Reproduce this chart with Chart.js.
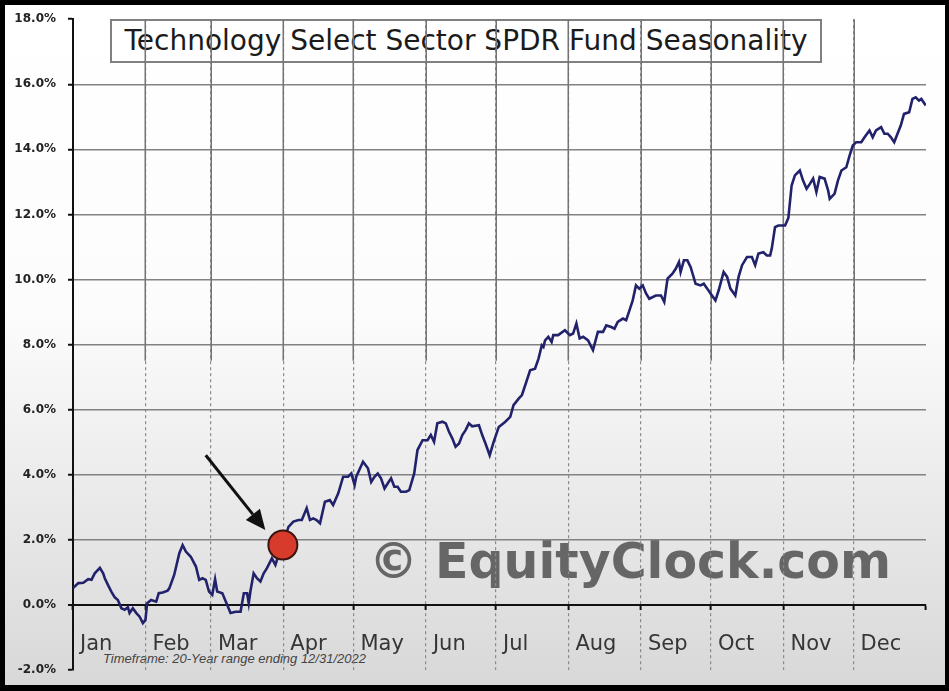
<!DOCTYPE html>
<html>
<head>
<meta charset="utf-8">
<script src="https://cdn.jsdelivr.net/npm/chart.js@4.4.0/dist/chart.umd.min.js"></script>
<style>
  html, body { margin: 0; padding: 0; background: #000; width: 949px; height: 691px; overflow: hidden; }
  #panel { position: absolute; left: 5px; top: 5px; width: 940px; height: 680px;
           background: linear-gradient(#ffffff 0%, #fcfcfc 45%, #d8d8d8 100%); }
  #title { position: absolute; left: 110px; top: 19px; width: 712px; height: 44px; box-sizing: border-box;
           border: 2px solid #808080; font: 28px "DejaVu Sans"; line-height: 40px; text-align: center; color: #1b1b1b; }
  #mark { position: absolute; left: 369px; top: 537px; font: bold 49px "DejaVu Sans"; line-height: 49px;
          color: rgba(88, 88, 88, 0.9); white-space: nowrap; }
  #frame { position: absolute; left: 103px; top: 652px; font: italic 13px "Liberation Sans"; line-height: 14px;
           color: #444; white-space: nowrap; }
  canvas { position: absolute; left: 0; top: 0; }
</style>
</head>
<body>
<div id="panel"></div>
<div id="title">Technology Select Sector SPDR Fund Seasonality</div>
<div id="mark">© EquityClock.com</div>
<div id="frame">Timeframe: 20-Year range ending 12/31/2022</div>
<canvas id="myChart" width="949" height="691"></canvas>
<script>
// day of year (0-365) and average seasonal return, %
const days = [0, 2.3, 4.4, 6.5, 7.9, 9.3, 11.5, 12.9, 13.6, 15.0,
  16.4, 17.8, 19.2, 20.7, 22.1, 23.5, 24.2, 25.6, 27.1, 28.5,
  29.9, 31.0, 31.7, 33.4, 35.6, 36.7, 38.4, 40.5, 41.2, 43.3,
  45.5, 46.9, 48.3, 50.4, 52.6, 54.0, 55.4, 56.8, 58.2, 59.6,
  60.8, 61.7, 63.9, 66.0, 67.4, 69.6, 71.7, 73.1, 74.5, 75.2,
  75.9, 77.3, 78.7, 80.2, 81.6, 83.0, 85.1, 86.6, 88.4, 89.7,
  92.2, 94.3, 96.5, 97.9, 100.0, 101.4, 102.8, 104.2, 105.7, 107.8,
  109.9, 111.3, 113.5, 115.6, 117.7, 119.1, 120.5, 121.2, 124.1, 126.2,
  127.6, 129.0, 130.4, 131.8, 133.3, 134.7, 136.1, 137.5, 138.9, 140.3,
  142.5, 143.9, 146.0, 147.4, 149.6, 151.7, 153.1, 154.5, 155.9, 158.1,
  159.5, 160.9, 162.3, 163.7, 165.2, 166.6, 168.0, 169.4, 170.8, 173.7,
  175.1, 176.5, 178.3, 180.0, 182.2, 185.0, 187.1, 188.5, 190.7, 192.1,
  193.5, 195.6, 197.7, 199.2, 200.6, 201.3, 202.0, 203.4, 204.8, 205.5,
  207.6, 210.5, 212.6, 214.0, 215.4, 216.8, 218.3, 220.4, 222.5, 224.6,
  226.8, 228.2, 230.3, 231.7, 233.1, 235.3, 236.7, 238.1, 239.5, 240.9,
  242.3, 243.8, 245.2, 246.6, 249.4, 251.6, 253.0, 254.4, 256.5, 257.9,
  259.3, 260.0, 261.4, 262.9, 264.3, 266.4, 268.5, 269.9, 271.4, 272.8,
  274.9, 276.3, 278.4, 279.9, 281.3, 283.4, 284.8, 286.3, 288.4, 290.5,
  291.9, 293.3, 295.4, 296.9, 298.3, 299.0, 300.4, 301.8, 304.7, 306.1,
  307.5, 308.9, 311.0, 312.4, 313.9, 315.3, 316.7, 318.1, 319.5, 321.6,
  323.1, 323.8, 325.9, 327.3, 328.8, 330.9, 332.3, 333.7, 335.1, 337.3,
  338.7, 340.8, 342.2, 343.6, 345.8, 347.2, 348.6, 350.0, 351.4, 352.8,
  354.2, 355.6, 357.8, 359.2, 360.6, 362.0, 363.0, 364.9];

const values = [0.52, 0.67, 0.68, 0.79, 0.77, 0.97, 1.14, 0.97, 0.82, 0.61,
  0.41, 0.24, 0.15, -0.10, -0.15, -0.07, -0.25, -0.10, -0.25, -0.36,
  -0.56, -0.46, 0.05, 0.15, 0.10, 0.36, 0.38, 0.44, 0.51, 0.92,
  1.59, 1.84, 1.64, 1.48, 1.18, 0.77, 0.82, 0.77, 0.41, 0.31,
  0.79, 0.41, 0.36, 0.00, -0.25, -0.21, -0.21, 0.36, 0.36, 0.05,
  0.41, 0.97, 0.82, 0.72, 0.97, 1.13, 1.43, 1.23, 1.63, 1.84,
  2.40, 2.56, 2.61, 2.61, 2.97, 2.61, 2.66, 2.61, 2.51, 3.17,
  3.22, 3.07, 3.43, 3.94, 3.94, 4.04, 3.68, 3.94, 4.40, 4.20,
  3.78, 3.94, 4.04, 3.89, 3.58, 3.74, 3.89, 3.63, 3.63, 3.48,
  3.48, 3.53, 4.04, 4.76, 5.06, 5.06, 5.22, 5.01, 5.58, 5.63,
  5.58, 5.32, 5.12, 4.86, 4.96, 5.22, 5.37, 5.58, 5.49, 5.52,
  5.22, 4.96, 4.60, 5.01, 5.47, 5.63, 5.78, 6.14, 6.34, 6.45,
  6.75, 7.21, 7.26, 7.57, 7.98, 7.93, 8.13, 8.24, 8.08, 8.29,
  8.29, 8.44, 8.29, 8.34, 8.65, 8.19, 8.24, 8.13, 7.83, 8.39,
  8.39, 8.59, 8.54, 8.49, 8.70, 8.80, 8.75, 9.05, 9.36, 9.82,
  9.72, 9.82, 9.57, 9.41, 9.51, 9.51, 9.31, 10.03, 10.18, 10.33,
  10.54, 10.23, 10.59, 10.59, 10.38, 9.87, 9.82, 9.87, 9.72, 9.57,
  9.36, 9.67, 10.23, 10.08, 9.72, 9.51, 10.08, 10.44, 10.69, 10.69,
  10.44, 10.80, 10.84, 10.74, 10.74, 10.95, 11.61, 11.66, 11.66, 11.89,
  12.89, 13.20, 13.35, 13.04, 12.79, 12.94, 13.10, 12.69, 13.15, 13.10,
  12.74, 12.48, 12.64, 13.04, 13.35, 13.45, 13.81, 14.12, 14.22, 14.22,
  14.37, 14.58, 14.37, 14.58, 14.68, 14.48, 14.48, 14.37, 14.22, 14.48,
  14.73, 15.09, 15.14, 15.55, 15.60, 15.50, 15.55, 15.35];

const monthStarts = [0, 31, 59, 90, 120, 151, 181, 212, 243, 273, 304, 334, 365];
const monthNames = ['Jan', 'Feb', 'Mar', 'Apr', 'May', 'Jun', 'Jul', 'Aug', 'Sep', 'Oct', 'Nov', 'Dec'];

// today's marker and the arrow pointing at it
const markerPoint = [89.8, 1.84];
const arrowFrom = [56.8, 4.60];
const arrowTo = [82.3, 2.30];

const solidGridAbove = 7.5;

const gridExtras = {
  id: 'gridExtras',
  beforeDatasetsDraw(chart) {
    const { ctx, chartArea, scales: { x, y } } = chart;
    const yEnd = y.getPixelForValue(solidGridAbove);
    ctx.save();
    ctx.strokeStyle = '#747474';
    ctx.lineWidth = 1.5;
    monthStarts.slice(1, -1).forEach(d => {
      const px = Math.round(x.getPixelForValue(d)) + 0.25;
      ctx.beginPath();
      ctx.moveTo(px, chartArea.top);
      ctx.lineTo(px, yEnd);
      ctx.stroke();
    });
    ctx.restore();
  },
  afterDatasetsDraw(chart) {
    const { ctx, scales: { x, y } } = chart;
    const x1 = x.getPixelForValue(arrowFrom[0]), y1 = y.getPixelForValue(arrowFrom[1]);
    const x2 = x.getPixelForValue(arrowTo[0]), y2 = y.getPixelForValue(arrowTo[1]);
    const ang = Math.atan2(y2 - y1, x2 - x1);
    const head = 20, half = 9;
    const bx = x2 - head * Math.cos(ang), by = y2 - head * Math.sin(ang);
    ctx.save();
    ctx.strokeStyle = '#111';
    ctx.fillStyle = '#111';
    ctx.lineWidth = 3;
    ctx.beginPath();
    ctx.moveTo(x1, y1);
    ctx.lineTo(bx, by);
    ctx.stroke();
    ctx.beginPath();
    ctx.moveTo(x2, y2);
    ctx.lineTo(bx + half * Math.sin(ang), by - half * Math.cos(ang));
    ctx.lineTo(bx - half * Math.sin(ang), by + half * Math.cos(ang));
    ctx.closePath();
    ctx.fill();
    ctx.restore();
  }
};

const seasonal = days.map((d, i) => ({ x: d, y: values[i] }));

const config = {
  type: 'line',
  data: {
    datasets: [
      {
        type: 'scatter',
        data: [{ x: markerPoint[0], y: markerPoint[1] }],
        pointRadius: 14.5,
        backgroundColor: '#d63b2b',
        borderColor: '#3a1512',
        borderWidth: 2,
        order: 0
      },
      {
        data: seasonal,
        borderColor: '#22226c',
        borderWidth: 2.6,
        pointRadius: 0,
        tension: 0,
        order: 1
      }
    ]
  },
  options: {
    responsive: false,
    animation: false,
    layout: { padding: { left: 0, right: 17, top: 19, bottom: 21 } },
    plugins: { legend: { display: false }, tooltip: { enabled: false } },
    scales: {
      x: {
        type: 'linear',
        min: 0,
        max: 365,
        position: { y: 0 },
        afterBuildTicks: (axis) => { axis.ticks = monthStarts.map(v => ({ value: v })); },
        ticks: {
          autoSkip: false,
          maxRotation: 0,
          align: 'start',
          labelOffset: 7,
          padding: 23,
          color: '#363636',
          font: { family: 'DejaVu Sans', size: 21 },
          callback: (v, i) => monthNames[i] || ''
        },
        grid: {
          color: (c) => (c.tick && (c.tick.value === 0 || c.tick.value === 365)) ? 'rgba(0,0,0,0)' : '#8a8a8a',
          lineWidth: 1.2,
          tickColor: '#111',
          tickLength: 4,
          tickWidth: 2
        },
        border: { display: true, color: '#111', width: 2, dash: [3, 3] }
      },
      y: {
        min: -2,
        max: 18,
        afterFit: (scale) => { scale.width = 73; },
        ticks: {
          stepSize: 2,
          padding: 12,
          color: '#222',
          font: { family: 'DejaVu Sans', size: 12, weight: 'bold' },
          callback: (v) => v.toFixed(1) + '%'
        },
        grid: {
          color: (c) => {
            const v = c.tick ? c.tick.value : null;
            if (v === 0) return '#111';
            if (v === 18 || v === -2) return 'rgba(0,0,0,0)';
            return '#828282';
          },
          lineWidth: (c) => (c.tick && c.tick.value === 0) ? 2 : 1.5,
          tickColor: '#111',
          tickLength: 5,
          tickWidth: 2
        },
        border: { display: true, color: '#111', width: 2 }
      }
    }
  },
  plugins: [gridExtras]
};

const myChart = document.getElementById('myChart');
new Chart(myChart, config);
</script>
</body>
</html>
